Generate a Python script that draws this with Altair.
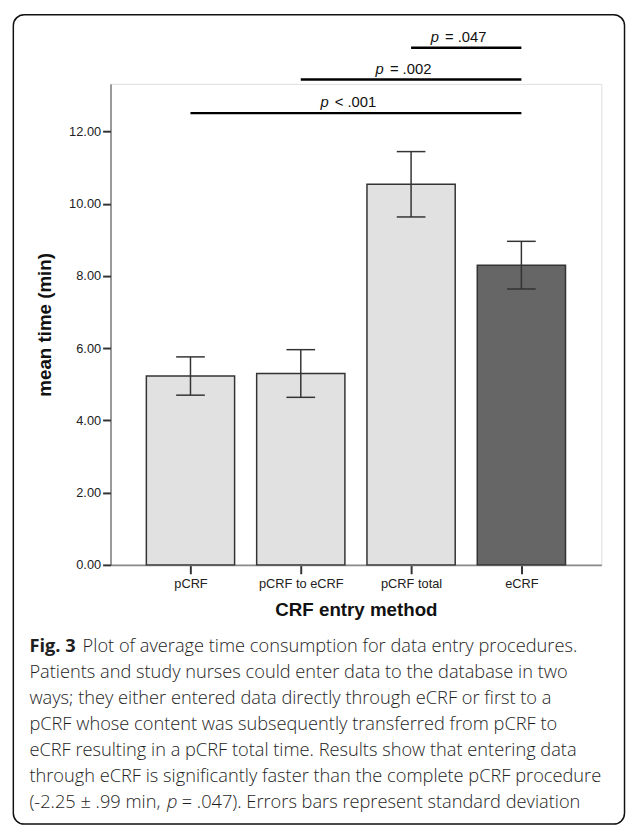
import altair as alt
import pandas as pd

# ---------------- data ----------------
categories = ["pCRF", "pCRF to eCRF", "pCRF total", "eCRF"]
means = [5.23, 5.30, 10.54, 8.30]
sds = [0.53, 0.66, 0.905, 0.66]
fills = ["#e1e1e1", "#e1e1e1", "#e1e1e1", "#666666"]

sig_from = [0, 1, 2]
sig_to = [3, 3, 3]
sig_level = [12.51, 13.44, 14.32]
sig_rest = ["< .001", "= .002", "= .047"]

y_ticks = [0, 2, 4, 6, 8, 10, 12]
y_top = 13.32

caption_first_bold = "Fig. 3"
caption_first_rest = "Plot of average time consumption for data entry procedures."
caption_lines = [
    "Patients and study nurses could enter data to the database in two",
    "ways; they either entered data directly through eCRF or first to a",
    "pCRF whose content was subsequently transferred from pCRF to",
    "eCRF resulting in a pCRF total time. Results show that entering data",
    "through eCRF is significantly faster than the complete pCRF procedure",
]
caption_last_a = "(-2.25 ± .99 min,"
caption_last_p = "p"
caption_last_b = "= .047). Errors bars represent standard deviation"

# ---------------- tables ----------------
bars = pd.DataFrame({
    "idx": list(range(len(categories))),
    "cat": categories,
    "mean": means,
    "sd": sds,
    "fill": fills,
})
sig = pd.DataFrame({"a": sig_from, "b": sig_to, "level": sig_level, "rest": sig_rest})

AX_FONT = "Liberation Sans"
CAP_FONT = "Open Sans"
W, H = 498, 488

label_expr = "[" + ",".join("'" + c + "'" for c in categories) + "][datum.value]"

xscale = alt.Scale(domain=[-0.725, 3.725], nice=False, zero=False)
yscale = alt.Scale(domain=[0, y_top], nice=False)

base = alt.Chart(bars).transform_calculate(
    x0="datum.idx - 0.4",
    x1="datum.idx + 0.4",
    lo="datum.mean - datum.sd",
    hi="datum.mean + datum.sd",
    c0="datum.idx - 0.13",
    c1="datum.idx + 0.13",
)

bar_layer = base.mark_bar(stroke="#333333", strokeWidth=1.5).encode(
    x=alt.X("x0:Q", scale=xscale,
            axis=alt.Axis(values=[0, 1, 2, 3], labelExpr=label_expr, grid=False,
                          tickSize=9, tickWidth=2, tickColor="#333333",
                          domainColor="#8a8a8a", domainWidth=2,
                          labelFont=AX_FONT, labelFontSize=13, labelColor="#222222",
                          labelPadding=4, title="CRF entry method",
                          titleFont=AX_FONT, titleFontSize=19, titleFontWeight="bold",
                          titleColor="#111111", titlePadding=10)),
    x2="x1:Q",
    y=alt.Y("mean:Q", scale=yscale,
            axis=alt.Axis(values=y_ticks, format=".2f", grid=False,
                          tickSize=8, tickWidth=2, tickColor="#333333",
                          domainColor="#444444", domainWidth=1,
                          labelFont=AX_FONT, labelFontSize=13, labelColor="#222222",
                          labelPadding=2, title="mean time (min)",
                          titleFont=AX_FONT, titleFontSize=19, titleFontWeight="bold",
                          titleColor="#111111", titlePadding=14)),
    y2=alt.datum(0),
    fill=alt.Fill("fill:N", scale=None),
)

err_rule = base.mark_rule(color="#333333", strokeWidth=1.5).encode(
    x="idx:Q", y="lo:Q", y2="hi:Q")
cap_lo = base.mark_rule(color="#333333", strokeWidth=1.5).encode(
    x="c0:Q", x2="c1:Q", y="lo:Q")
cap_hi = base.mark_rule(color="#333333", strokeWidth=1.5).encode(
    x="c0:Q", x2="c1:Q", y="hi:Q")

sig_base = alt.Chart(sig).transform_calculate(mid="(datum.a + datum.b) / 2")
sig_rule = sig_base.mark_rule(color="#000000", strokeWidth=2.5).encode(
    x="a:Q", x2="b:Q", y="level:Q")
sig_p = sig_base.mark_text(font=AX_FONT, fontSize=15, fontStyle="italic", align="left",
                           baseline="alphabetic", dx=-36, dy=-6, color="#111111").encode(
    x="mid:Q", y="level:Q", text=alt.value("p"))
sig_txt = sig_base.mark_text(font=AX_FONT, fontSize=15, align="left",
                             baseline="alphabetic", dx=-21.5, dy=-6, color="#111111").encode(
    x="mid:Q", y="level:Q", text="rest:N")

one = pd.DataFrame({"k": [0]})

border = alt.Chart(one).mark_rect(fill="transparent", stroke="#111111", strokeWidth=1.5,
                                  cornerRadius=11).encode(
    x=alt.value(-98.6), x2=alt.value(521.5), y=alt.value(-70.2), y2=alt.value(751))

CAP_X = -82.3
CAP_Y0 = 576
CAP_LH = 26.5
cap_kw = dict(font=CAP_FONT, fontSize=18.5, align="left", baseline="alphabetic", color="#1e1e1e")

caps = []
caps.append(alt.Chart(one).mark_text(fontWeight="bold", **cap_kw).encode(
    x=alt.value(CAP_X), y=alt.value(CAP_Y0), text=alt.value(caption_first_bold)))
caps.append(alt.Chart(one).mark_text(fontWeight=300, **cap_kw).encode(
    x=alt.value(CAP_X + 54), y=alt.value(CAP_Y0), text=alt.value(caption_first_rest)))
for i, line in enumerate(caption_lines):
    caps.append(alt.Chart(one).mark_text(fontWeight=300, **cap_kw).encode(
        x=alt.value(CAP_X), y=alt.value(CAP_Y0 + CAP_LH * (i + 1)), text=alt.value(line)))
y_last = CAP_Y0 + CAP_LH * (len(caption_lines) + 1)
caps.append(alt.Chart(one).mark_text(fontWeight=300, **cap_kw).encode(
    x=alt.value(CAP_X), y=alt.value(y_last), text=alt.value(caption_last_a)))
caps.append(alt.Chart(one).mark_text(fontWeight=300, fontStyle="italic", **cap_kw).encode(
    x=alt.value(CAP_X + 139.5), y=alt.value(y_last), text=alt.value(caption_last_p)))
caps.append(alt.Chart(one).mark_text(fontWeight=300, **cap_kw).encode(
    x=alt.value(CAP_X + 154.5), y=alt.value(y_last), text=alt.value(caption_last_b)))

chart = alt.layer(
    bar_layer, err_rule, cap_lo, cap_hi, sig_rule, sig_p, sig_txt, border, *caps
).properties(
    width=W, height=H,
    padding={"left": 4, "top": 0, "right": 0, "bottom": 0},
).configure_view(stroke=None).configure(background="white")

chart.save("out.html", embed_options={"renderer": "svg", "actions": False})
